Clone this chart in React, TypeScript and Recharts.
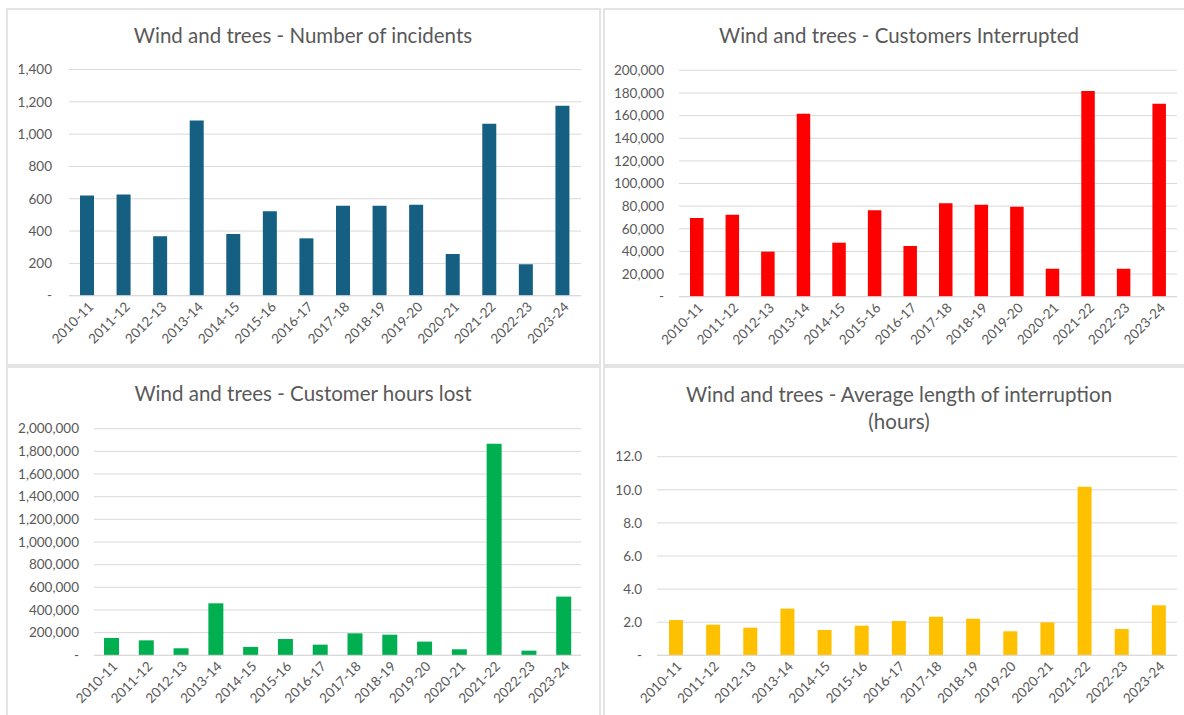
import React from 'react';
import { BarChart, Bar, XAxis, YAxis, CartesianGrid } from 'recharts';

// Financial years
const categories = [
  '2010-11', '2011-12', '2012-13', '2013-14', '2014-15', '2015-16', '2016-17',
  '2017-18', '2018-19', '2019-20', '2020-21', '2021-22', '2022-23', '2023-24',
];

// Wind and trees – annual figures
const incidents = [620, 627, 368, 1085, 382, 522, 355, 557, 557, 563, 258, 1064, 194, 1175];
const customersInterrupted = [
  69500, 72500, 39800, 161700, 47700, 76300, 44800, 82500, 81300, 79500, 24700, 181700, 24700, 170500,
];
const customerHoursLost = [
  153000, 132000, 62000, 459000, 74000, 144000, 94000, 194000, 182000, 121000, 53000, 1868000, 41000, 518000,
];
const avgHours = [2.13, 1.85, 1.67, 2.82, 1.53, 1.79, 2.07, 2.33, 2.21, 1.45, 1.99, 10.18, 1.59, 3.02];

// Axis ticks
const incidentTicks = [0, 200, 400, 600, 800, 1000, 1200, 1400];
const customerTicks = [0, 20000, 40000, 60000, 80000, 100000, 120000, 140000, 160000, 180000, 200000];
const hoursLostTicks = [0, 200000, 400000, 600000, 800000, 1000000, 1200000, 1400000, 1600000, 1800000, 2000000];
const avgTicks = [0, 2, 4, 6, 8, 10, 12];

const FONT = 'Lato, "Noto Sans", sans-serif';
const TEXT = '#595959';
const GRID = '#D9D9D9';

const rows = (values: number[]) => categories.map((c, i) => ({ name: c, value: values[i] }));

const thousands = (v: number) => (v === 0 ? '-' : v.toLocaleString('en-US'));
const oneDecimal = (v: number) => (v === 0 ? '-' : v.toFixed(1));

const SlantTick = (props: any) => {
  const { x, y, payload } = props;
  const ax = x + 7;
  const ay = y + 12;
  return (
    <text
      x={ax}
      y={ay}
      transform={`rotate(-45, ${ax}, ${ay})`}
      textAnchor="end"
      fontFamily={FONT}
      fontSize={13.5}
      fill={TEXT}
    >
      {payload.value}
    </text>
  );
};

type PanelProps = {
  box: { left: number; top: number; width: number; height: number };
  chart: { left: number; top: number; width: number; height: number };
  margin: { top: number; right: number };
  yWidth: number;
  xHeight: number;
  titleLines: string[];
  titleX: number;
  titleY: number;
  values: number[];
  ticks: number[];
  format: (v: number) => string;
  color: string;
  barSize: number;
  tickGap: number;
};

const Panel = (p: PanelProps) => {
  const data = rows(p.values);
  const max = p.ticks[p.ticks.length - 1];
  return (
    <>
      <div
        style={{
          position: 'absolute',
          left: p.box.left,
          top: p.box.top,
          width: p.box.width,
          height: p.box.height,
          border: '2px solid #E4E4E4',
          boxSizing: 'border-box',
        }}
      />
      <div style={{ position: 'absolute', left: p.chart.left, top: p.chart.top }}>
        <BarChart
          width={p.chart.width}
          height={p.chart.height}
          data={data}
          margin={{ top: p.margin.top, right: p.margin.right, left: 0, bottom: 0 }}
          barCategoryGap={0}
        >
          <CartesianGrid vertical={false} stroke={GRID} />
          <XAxis
            dataKey="name"
            interval={0}
            height={p.xHeight}
            tickLine={false}
            tickSize={0}
            tickMargin={0}
            axisLine={{ stroke: GRID }}
            tick={<SlantTick />}
          />
          <YAxis
            width={p.yWidth}
            domain={[0, max]}
            ticks={p.ticks}
            interval={0}
            axisLine={false}
            tickLine={false}
            tickSize={0}
            tickMargin={p.tickGap}
            tickFormatter={p.format}
            tick={{ fontFamily: FONT, fontSize: 13.5, fill: TEXT }}
          />
          <Bar dataKey="value" fill={p.color} barSize={p.barSize} isAnimationActive={false} />
        </BarChart>
      </div>
      <svg
        style={{ position: 'absolute', left: 0, top: 0, pointerEvents: 'none' }}
        width={1184}
        height={715}
      >
        {p.titleLines.map((line, i) => (
          <text
            key={i}
            x={p.titleX}
            y={p.titleY + i * 27}
            textAnchor="middle"
            fontFamily={FONT}
            fontSize={20.5}
            fill={TEXT}
          >
            {line}
          </text>
        ))}
      </svg>
    </>
  );
};

export default function App() {
  return (
    <div
      style={{
        position: 'absolute',
        left: 0,
        top: 0,
        width: 1184,
        height: 715,
        background: '#FFFFFF',
        overflow: 'hidden',
      }}
    >
      <Panel
        box={{ left: 6, top: 8, width: 595, height: 358 }}
        chart={{ left: 8, top: 10, width: 592, height: 355 }}
        margin={{ top: 59.5, right: 19 }}
        yWidth={61}
        xHeight={69.3}
        titleLines={['Wind and trees - Number of incidents']}
        titleX={303}
        titleY={43}
        values={incidents}
        ticks={incidentTicks}
        format={thousands}
        color="#156082"
        barSize={14}
        tickGap={17}
      />
      <Panel
        box={{ left: 603, top: 8, width: 700, height: 358 }}
        chart={{ left: 605, top: 10, width: 579, height: 355 }}
        margin={{ top: 60.3, right: 7 }}
        yWidth={74}
        xHeight={68.3}
        titleLines={['Wind and trees - Customers Interrupted']}
        titleX={899}
        titleY={43}
        values={customersInterrupted}
        ticks={customerTicks}
        format={thousands}
        color="#FF0000"
        barSize={13.5}
        tickGap={15}
      />
      <Panel
        box={{ left: 6, top: 366, width: 595, height: 400 }}
        chart={{ left: 8, top: 368, width: 592, height: 347 }}
        margin={{ top: 60.7, right: 19 }}
        yWidth={86}
        xHeight={59.7}
        titleLines={['Wind and trees - Customer hours lost']}
        titleX={303}
        titleY={400.5}
        values={customerHoursLost}
        ticks={hoursLostTicks}
        format={thousands}
        color="#00B050"
        barSize={15}
        tickGap={15}
      />
      <Panel
        box={{ left: 603, top: 366, width: 700, height: 400 }}
        chart={{ left: 605, top: 368, width: 579, height: 347 }}
        margin={{ top: 88.7, right: 7 }}
        yWidth={52}
        xHeight={59.7}
        titleLines={['Wind and trees - Average length of interruption', '(hours)']}
        titleX={899}
        titleY={401.5}
        values={avgHours}
        ticks={avgTicks}
        format={oneDecimal}
        color="#FFC000"
        barSize={14}
        tickGap={15}
      />
    </div>
  );
}
